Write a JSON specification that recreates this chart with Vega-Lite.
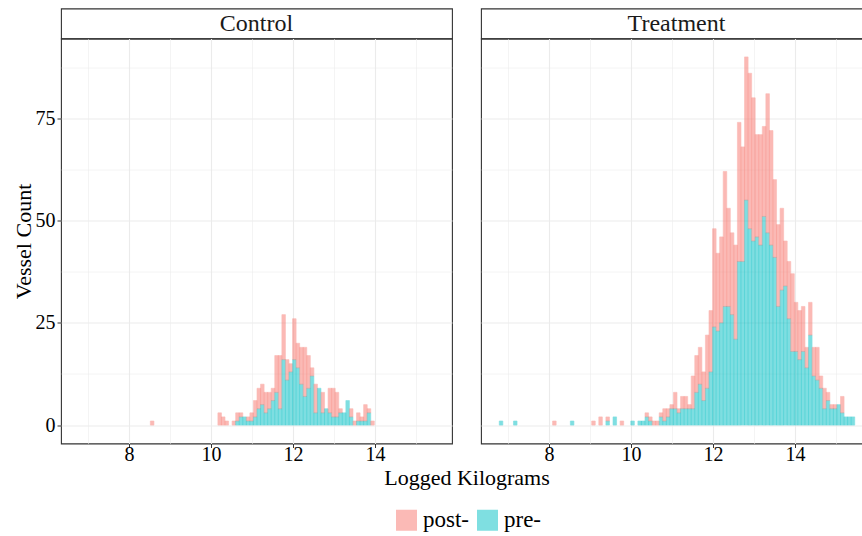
{
"$schema": "https://vega.github.io/schema/vega-lite/v6.json",
"background": "white",
"padding": {"left": 11, "top": 7.5, "right": 0, "bottom": 5},
"config": {"font": "Liberation Serif", "view": {"stroke": null},
  "legend": {"symbolType": "square", "symbolSize": 441, "symbolOpacity": 0.5, "symbolStrokeWidth": 0, "labelFontSize": 23, "labelColor": "black", "labelFont": "Liberation Serif", "columnPadding": 7, "labelOffset": 5, "padding": 0}},
"datasets": {
"strips": [{"p": "Control"}, {"p": "Treatment"}],
"bins": [
{"p":"Control","g":"post-","lo":8.5085,"hi":8.5952,"n":1},
{"p":"Control","g":"post-","lo":10.1558,"hi":10.2425,"n":3},
{"p":"Control","g":"post-","lo":10.2425,"hi":10.3292,"n":2},
{"p":"Control","g":"post-","lo":10.3292,"hi":10.4159,"n":1},
{"p":"Control","g":"post-","lo":10.5026,"hi":10.5893,"n":1},
{"p":"Control","g":"pre-","lo":10.5893,"hi":10.676,"n":1},
{"p":"Control","g":"post-","lo":10.5893,"hi":10.676,"n":2},
{"p":"Control","g":"pre-","lo":10.676,"hi":10.7627,"n":2},
{"p":"Control","g":"post-","lo":10.676,"hi":10.7627,"n":1},
{"p":"Control","g":"pre-","lo":10.7627,"hi":10.8494,"n":2},
{"p":"Control","g":"pre-","lo":10.8494,"hi":10.9361,"n":1},
{"p":"Control","g":"post-","lo":10.8494,"hi":10.9361,"n":1},
{"p":"Control","g":"pre-","lo":10.9361,"hi":11.0228,"n":1},
{"p":"Control","g":"post-","lo":10.9361,"hi":11.0228,"n":2},
{"p":"Control","g":"pre-","lo":11.0228,"hi":11.1095,"n":2},
{"p":"Control","g":"post-","lo":11.0228,"hi":11.1095,"n":4},
{"p":"Control","g":"pre-","lo":11.1095,"hi":11.1962,"n":4},
{"p":"Control","g":"post-","lo":11.1095,"hi":11.1962,"n":5},
{"p":"Control","g":"pre-","lo":11.1962,"hi":11.2829,"n":5},
{"p":"Control","g":"post-","lo":11.1962,"hi":11.2829,"n":5},
{"p":"Control","g":"pre-","lo":11.2829,"hi":11.3696,"n":3},
{"p":"Control","g":"post-","lo":11.2829,"hi":11.3696,"n":5},
{"p":"Control","g":"pre-","lo":11.3696,"hi":11.4563,"n":4},
{"p":"Control","g":"post-","lo":11.3696,"hi":11.4563,"n":4},
{"p":"Control","g":"pre-","lo":11.4563,"hi":11.543,"n":6},
{"p":"Control","g":"post-","lo":11.4563,"hi":11.543,"n":3},
{"p":"Control","g":"pre-","lo":11.543,"hi":11.6297,"n":8},
{"p":"Control","g":"post-","lo":11.543,"hi":11.6297,"n":9},
{"p":"Control","g":"pre-","lo":11.6297,"hi":11.7164,"n":4},
{"p":"Control","g":"post-","lo":11.6297,"hi":11.7164,"n":13},
{"p":"Control","g":"pre-","lo":11.7164,"hi":11.8031,"n":16},
{"p":"Control","g":"post-","lo":11.7164,"hi":11.8031,"n":11},
{"p":"Control","g":"pre-","lo":11.8031,"hi":11.8898,"n":11},
{"p":"Control","g":"post-","lo":11.8031,"hi":11.8898,"n":5},
{"p":"Control","g":"pre-","lo":11.8898,"hi":11.9765,"n":13},
{"p":"Control","g":"post-","lo":11.8898,"hi":11.9765,"n":2},
{"p":"Control","g":"pre-","lo":11.9765,"hi":12.0632,"n":16},
{"p":"Control","g":"post-","lo":11.9765,"hi":12.0632,"n":10},
{"p":"Control","g":"pre-","lo":12.0632,"hi":12.1499,"n":14},
{"p":"Control","g":"post-","lo":12.0632,"hi":12.1499,"n":6},
{"p":"Control","g":"pre-","lo":12.1499,"hi":12.2366,"n":10},
{"p":"Control","g":"post-","lo":12.1499,"hi":12.2366,"n":9},
{"p":"Control","g":"pre-","lo":12.2366,"hi":12.3233,"n":7},
{"p":"Control","g":"post-","lo":12.2366,"hi":12.3233,"n":12},
{"p":"Control","g":"pre-","lo":12.3233,"hi":12.41,"n":9},
{"p":"Control","g":"post-","lo":12.3233,"hi":12.41,"n":8},
{"p":"Control","g":"pre-","lo":12.41,"hi":12.4967,"n":12},
{"p":"Control","g":"post-","lo":12.41,"hi":12.4967,"n":2},
{"p":"Control","g":"pre-","lo":12.4967,"hi":12.5834,"n":3},
{"p":"Control","g":"post-","lo":12.4967,"hi":12.5834,"n":7},
{"p":"Control","g":"pre-","lo":12.5834,"hi":12.6701,"n":9},
{"p":"Control","g":"pre-","lo":12.6701,"hi":12.7568,"n":3},
{"p":"Control","g":"post-","lo":12.6701,"hi":12.7568,"n":5},
{"p":"Control","g":"pre-","lo":12.7568,"hi":12.8435,"n":4},
{"p":"Control","g":"pre-","lo":12.8435,"hi":12.9302,"n":3},
{"p":"Control","g":"post-","lo":12.8435,"hi":12.9302,"n":6},
{"p":"Control","g":"pre-","lo":12.9302,"hi":13.0169,"n":2},
{"p":"Control","g":"post-","lo":12.9302,"hi":13.0169,"n":7},
{"p":"Control","g":"pre-","lo":13.0169,"hi":13.1036,"n":2},
{"p":"Control","g":"post-","lo":13.0169,"hi":13.1036,"n":6},
{"p":"Control","g":"pre-","lo":13.1036,"hi":13.1903,"n":3},
{"p":"Control","g":"post-","lo":13.1036,"hi":13.1903,"n":1},
{"p":"Control","g":"pre-","lo":13.1903,"hi":13.277,"n":3},
{"p":"Control","g":"pre-","lo":13.277,"hi":13.3637,"n":6},
{"p":"Control","g":"pre-","lo":13.3637,"hi":13.4504,"n":2},
{"p":"Control","g":"post-","lo":13.3637,"hi":13.4504,"n":2},
{"p":"Control","g":"post-","lo":13.4504,"hi":13.5371,"n":1},
{"p":"Control","g":"pre-","lo":13.5371,"hi":13.6238,"n":1},
{"p":"Control","g":"post-","lo":13.5371,"hi":13.6238,"n":2},
{"p":"Control","g":"pre-","lo":13.6238,"hi":13.7105,"n":1},
{"p":"Control","g":"post-","lo":13.6238,"hi":13.7105,"n":1},
{"p":"Control","g":"pre-","lo":13.7105,"hi":13.7972,"n":1},
{"p":"Control","g":"post-","lo":13.7105,"hi":13.7972,"n":4},
{"p":"Control","g":"pre-","lo":13.7972,"hi":13.8839,"n":3},
{"p":"Control","g":"post-","lo":13.7972,"hi":13.8839,"n":1},
{"p":"Control","g":"post-","lo":13.8839,"hi":13.9706,"n":1},
{"p":"Treatment","g":"pre-","lo":6.7745,"hi":6.8612,"n":1},
{"p":"Treatment","g":"pre-","lo":7.1213,"hi":7.208,"n":1},
{"p":"Treatment","g":"post-","lo":8.075,"hi":8.1617,"n":1},
{"p":"Treatment","g":"pre-","lo":8.5085,"hi":8.5952,"n":1},
{"p":"Treatment","g":"post-","lo":9.0287,"hi":9.1154,"n":1},
{"p":"Treatment","g":"post-","lo":9.2021,"hi":9.2888,"n":2},
{"p":"Treatment","g":"pre-","lo":9.3755,"hi":9.4622,"n":1},
{"p":"Treatment","g":"post-","lo":9.3755,"hi":9.4622,"n":1},
{"p":"Treatment","g":"pre-","lo":9.5489,"hi":9.6356,"n":2},
{"p":"Treatment","g":"post-","lo":9.7223,"hi":9.809,"n":1},
{"p":"Treatment","g":"pre-","lo":9.9824,"hi":10.0691,"n":1},
{"p":"Treatment","g":"pre-","lo":10.1558,"hi":10.2425,"n":1},
{"p":"Treatment","g":"pre-","lo":10.2425,"hi":10.3292,"n":1},
{"p":"Treatment","g":"pre-","lo":10.3292,"hi":10.4159,"n":2},
{"p":"Treatment","g":"post-","lo":10.3292,"hi":10.4159,"n":1},
{"p":"Treatment","g":"pre-","lo":10.4159,"hi":10.5026,"n":1},
{"p":"Treatment","g":"post-","lo":10.4159,"hi":10.5026,"n":1},
{"p":"Treatment","g":"post-","lo":10.5026,"hi":10.5893,"n":1},
{"p":"Treatment","g":"post-","lo":10.5893,"hi":10.676,"n":1},
{"p":"Treatment","g":"pre-","lo":10.676,"hi":10.7627,"n":2},
{"p":"Treatment","g":"post-","lo":10.676,"hi":10.7627,"n":1},
{"p":"Treatment","g":"pre-","lo":10.7627,"hi":10.8494,"n":1},
{"p":"Treatment","g":"post-","lo":10.7627,"hi":10.8494,"n":3},
{"p":"Treatment","g":"pre-","lo":10.8494,"hi":10.9361,"n":2},
{"p":"Treatment","g":"post-","lo":10.8494,"hi":10.9361,"n":2},
{"p":"Treatment","g":"pre-","lo":10.9361,"hi":11.0228,"n":4},
{"p":"Treatment","g":"post-","lo":10.9361,"hi":11.0228,"n":1},
{"p":"Treatment","g":"pre-","lo":11.0228,"hi":11.1095,"n":4},
{"p":"Treatment","g":"post-","lo":11.0228,"hi":11.1095,"n":4},
{"p":"Treatment","g":"pre-","lo":11.1095,"hi":11.1962,"n":3},
{"p":"Treatment","g":"post-","lo":11.1095,"hi":11.1962,"n":1},
{"p":"Treatment","g":"pre-","lo":11.1962,"hi":11.2829,"n":4},
{"p":"Treatment","g":"post-","lo":11.1962,"hi":11.2829,"n":3},
{"p":"Treatment","g":"pre-","lo":11.2829,"hi":11.3696,"n":4},
{"p":"Treatment","g":"post-","lo":11.2829,"hi":11.3696,"n":3},
{"p":"Treatment","g":"pre-","lo":11.3696,"hi":11.4563,"n":4},
{"p":"Treatment","g":"post-","lo":11.3696,"hi":11.4563,"n":1},
{"p":"Treatment","g":"pre-","lo":11.4563,"hi":11.543,"n":4},
{"p":"Treatment","g":"post-","lo":11.4563,"hi":11.543,"n":8},
{"p":"Treatment","g":"pre-","lo":11.543,"hi":11.6297,"n":8},
{"p":"Treatment","g":"post-","lo":11.543,"hi":11.6297,"n":9},
{"p":"Treatment","g":"pre-","lo":11.6297,"hi":11.7164,"n":10},
{"p":"Treatment","g":"post-","lo":11.6297,"hi":11.7164,"n":9},
{"p":"Treatment","g":"pre-","lo":11.7164,"hi":11.8031,"n":6},
{"p":"Treatment","g":"post-","lo":11.7164,"hi":11.8031,"n":7},
{"p":"Treatment","g":"pre-","lo":11.8031,"hi":11.8898,"n":9},
{"p":"Treatment","g":"post-","lo":11.8031,"hi":11.8898,"n":13},
{"p":"Treatment","g":"pre-","lo":11.8898,"hi":11.9765,"n":13},
{"p":"Treatment","g":"post-","lo":11.8898,"hi":11.9765,"n":15},
{"p":"Treatment","g":"pre-","lo":11.9765,"hi":12.0632,"n":24},
{"p":"Treatment","g":"post-","lo":11.9765,"hi":12.0632,"n":24},
{"p":"Treatment","g":"pre-","lo":12.0632,"hi":12.1499,"n":23},
{"p":"Treatment","g":"post-","lo":12.0632,"hi":12.1499,"n":19},
{"p":"Treatment","g":"pre-","lo":12.1499,"hi":12.2366,"n":25},
{"p":"Treatment","g":"post-","lo":12.1499,"hi":12.2366,"n":21},
{"p":"Treatment","g":"pre-","lo":12.2366,"hi":12.3233,"n":29},
{"p":"Treatment","g":"post-","lo":12.2366,"hi":12.3233,"n":33},
{"p":"Treatment","g":"pre-","lo":12.3233,"hi":12.41,"n":29},
{"p":"Treatment","g":"post-","lo":12.3233,"hi":12.41,"n":24},
{"p":"Treatment","g":"pre-","lo":12.41,"hi":12.4967,"n":27},
{"p":"Treatment","g":"post-","lo":12.41,"hi":12.4967,"n":20},
{"p":"Treatment","g":"pre-","lo":12.4967,"hi":12.5834,"n":21},
{"p":"Treatment","g":"post-","lo":12.4967,"hi":12.5834,"n":23},
{"p":"Treatment","g":"pre-","lo":12.5834,"hi":12.6701,"n":40},
{"p":"Treatment","g":"post-","lo":12.5834,"hi":12.6701,"n":34},
{"p":"Treatment","g":"pre-","lo":12.6701,"hi":12.7568,"n":40},
{"p":"Treatment","g":"post-","lo":12.6701,"hi":12.7568,"n":28},
{"p":"Treatment","g":"pre-","lo":12.7568,"hi":12.8435,"n":55},
{"p":"Treatment","g":"post-","lo":12.7568,"hi":12.8435,"n":35},
{"p":"Treatment","g":"pre-","lo":12.8435,"hi":12.9302,"n":48},
{"p":"Treatment","g":"post-","lo":12.8435,"hi":12.9302,"n":38},
{"p":"Treatment","g":"pre-","lo":12.9302,"hi":13.0169,"n":45},
{"p":"Treatment","g":"post-","lo":12.9302,"hi":13.0169,"n":35},
{"p":"Treatment","g":"pre-","lo":13.0169,"hi":13.1036,"n":46},
{"p":"Treatment","g":"post-","lo":13.0169,"hi":13.1036,"n":25},
{"p":"Treatment","g":"pre-","lo":13.1036,"hi":13.1903,"n":44},
{"p":"Treatment","g":"post-","lo":13.1036,"hi":13.1903,"n":27},
{"p":"Treatment","g":"pre-","lo":13.1903,"hi":13.277,"n":51},
{"p":"Treatment","g":"post-","lo":13.1903,"hi":13.277,"n":22},
{"p":"Treatment","g":"pre-","lo":13.277,"hi":13.3637,"n":47},
{"p":"Treatment","g":"post-","lo":13.277,"hi":13.3637,"n":34},
{"p":"Treatment","g":"pre-","lo":13.3637,"hi":13.4504,"n":44},
{"p":"Treatment","g":"post-","lo":13.3637,"hi":13.4504,"n":28},
{"p":"Treatment","g":"pre-","lo":13.4504,"hi":13.5371,"n":41},
{"p":"Treatment","g":"post-","lo":13.4504,"hi":13.5371,"n":19},
{"p":"Treatment","g":"pre-","lo":13.5371,"hi":13.6238,"n":29},
{"p":"Treatment","g":"post-","lo":13.5371,"hi":13.6238,"n":20},
{"p":"Treatment","g":"pre-","lo":13.6238,"hi":13.7105,"n":33},
{"p":"Treatment","g":"post-","lo":13.6238,"hi":13.7105,"n":20},
{"p":"Treatment","g":"pre-","lo":13.7105,"hi":13.7972,"n":34},
{"p":"Treatment","g":"post-","lo":13.7105,"hi":13.7972,"n":11},
{"p":"Treatment","g":"pre-","lo":13.7972,"hi":13.8839,"n":26},
{"p":"Treatment","g":"post-","lo":13.7972,"hi":13.8839,"n":14},
{"p":"Treatment","g":"pre-","lo":13.8839,"hi":13.9706,"n":18},
{"p":"Treatment","g":"post-","lo":13.8839,"hi":13.9706,"n":19},
{"p":"Treatment","g":"pre-","lo":13.9706,"hi":14.0573,"n":18},
{"p":"Treatment","g":"post-","lo":13.9706,"hi":14.0573,"n":12},
{"p":"Treatment","g":"pre-","lo":14.0573,"hi":14.144,"n":16},
{"p":"Treatment","g":"post-","lo":14.0573,"hi":14.144,"n":12},
{"p":"Treatment","g":"pre-","lo":14.144,"hi":14.2307,"n":18},
{"p":"Treatment","g":"post-","lo":14.144,"hi":14.2307,"n":11},
{"p":"Treatment","g":"pre-","lo":14.2307,"hi":14.3174,"n":14},
{"p":"Treatment","g":"post-","lo":14.2307,"hi":14.3174,"n":5},
{"p":"Treatment","g":"pre-","lo":14.3174,"hi":14.4041,"n":22},
{"p":"Treatment","g":"post-","lo":14.3174,"hi":14.4041,"n":8},
{"p":"Treatment","g":"pre-","lo":14.4041,"hi":14.4908,"n":12},
{"p":"Treatment","g":"post-","lo":14.4041,"hi":14.4908,"n":7},
{"p":"Treatment","g":"pre-","lo":14.4908,"hi":14.5775,"n":11},
{"p":"Treatment","g":"post-","lo":14.4908,"hi":14.5775,"n":8},
{"p":"Treatment","g":"pre-","lo":14.5775,"hi":14.6642,"n":9},
{"p":"Treatment","g":"post-","lo":14.5775,"hi":14.6642,"n":3},
{"p":"Treatment","g":"pre-","lo":14.6642,"hi":14.7509,"n":4},
{"p":"Treatment","g":"post-","lo":14.6642,"hi":14.7509,"n":5},
{"p":"Treatment","g":"pre-","lo":14.7509,"hi":14.8376,"n":6},
{"p":"Treatment","g":"post-","lo":14.7509,"hi":14.8376,"n":2},
{"p":"Treatment","g":"pre-","lo":14.8376,"hi":14.9243,"n":4},
{"p":"Treatment","g":"post-","lo":14.8376,"hi":14.9243,"n":1},
{"p":"Treatment","g":"pre-","lo":14.9243,"hi":15.011,"n":4},
{"p":"Treatment","g":"post-","lo":14.9243,"hi":15.011,"n":1},
{"p":"Treatment","g":"pre-","lo":15.011,"hi":15.0977,"n":5},
{"p":"Treatment","g":"pre-","lo":15.0977,"hi":15.1844,"n":3},
{"p":"Treatment","g":"post-","lo":15.0977,"hi":15.1844,"n":4},
{"p":"Treatment","g":"pre-","lo":15.1844,"hi":15.2711,"n":2},
{"p":"Treatment","g":"pre-","lo":15.2711,"hi":15.3578,"n":2},
{"p":"Treatment","g":"pre-","lo":15.3578,"hi":15.4445,"n":2}
]},
"columns": 2,
"spacing": {"row": 0, "column": 29},
"bounds": "flush",
"concat": [
{"data": {"name": "strips"}, "transform": [{"filter": "datum.p == 'Control'"}], "width": 391, "height": 30,
 "view": {"stroke": "#333333", "strokeWidth": 1.1, "fill": "white"},
 "mark": {"type": "text", "fontSize": 24, "color": "#1a1a1a", "font": "Liberation Serif"},
 "encoding": {"text": {"field": "p", "type": "nominal"}}},
{"data": {"name": "strips"}, "transform": [{"filter": "datum.p == 'Treatment'"}], "width": 391, "height": 30,
 "view": {"stroke": "#333333", "strokeWidth": 1.1, "fill": "white"},
 "mark": {"type": "text", "fontSize": 24, "color": "#1a1a1a", "font": "Liberation Serif"},
 "encoding": {"text": {"field": "p", "type": "nominal"}}},
{"data": {"name": "bins"}, "transform": [{"filter": "datum.p == 'Control'"}], "width": 391, "height": 405,
 "view": {"stroke": "#333333", "strokeWidth": 1.1},
 "mark": {"type": "bar", "orient": "vertical", "opacity": 0.5, "binSpacing": 0, "strokeWidth": 0.6},
 "encoding": {
  "x": {"field": "lo", "type": "quantitative", "bin": "binned", "scale": {"domain": [6.341, 15.878], "nice": false, "zero": false},
   "axis": {"values": [7,8,9,10,11,12,13,14,15], "labelExpr": "datum.value % 2 == 0 ? datum.label : ''", "title": "Logged Kilograms", "titleX": 405.5, "titleFontSize": 22, "titleFontWeight": "normal", "titleColor": "black", "titleFont": "Liberation Serif", "titlePadding": 3, "labelFontSize": 20, "labelColor": "black", "labelFont": "Liberation Serif", "labelPadding": -3, "labelFlush": false, "labelOverlap": false, "tickSize": 4, "tickColor": {"condition": {"test": "datum.value % 2 == 0", "value": "#333333"}, "value": "rgba(0,0,0,0)"}, "domain": false, "grid": true, "gridColor": "#EBEBEB", "gridWidth": {"condition": {"test": "datum.value % 2 == 0", "value": 1.1}, "value": 0.55}}},
  "x2": {"field": "hi"},
  "y": {"field": "n", "type": "quantitative", "stack": "zero", "scale": {"domain": [-4.5, 94.5], "nice": false, "zero": false},
   "axis": {"values": [0,12.5,25,37.5,50,62.5,75,87.5], "labelExpr": "datum.value % 25 == 0 ? datum.label : ''", "title": "Vessel Count", "titleFontSize": 22, "titleFontWeight": "normal", "titleColor": "black", "titleFont": "Liberation Serif", "titlePadding": 0, "labelFontSize": 20, "labelColor": "black", "labelFont": "Liberation Serif", "labelPadding": 2, "labelOverlap": false, "tickSize": 4, "tickColor": {"condition": {"test": "datum.value % 25 == 0", "value": "#333333"}, "value": "rgba(0,0,0,0)"}, "domain": false, "grid": true, "gridColor": "#EBEBEB", "gridWidth": {"condition": {"test": "datum.value % 25 == 0", "value": 1.1}, "value": 0.55}}},
  "color": {"field": "g", "type": "nominal", "scale": {"domain": ["post-", "pre-"], "range": ["#F8766D", "#00BFC4"]}, "legend": {"title": null, "orient": "none", "direction": "horizontal", "legendX": 334, "legendY": 500}},
  "stroke": {"field": "g", "type": "nominal", "scale": {"domain": ["post-", "pre-"], "range": ["#F8766D", "#00BFC4"]}, "legend": {"title": null, "orient": "none", "direction": "horizontal", "legendX": 334, "legendY": 500}},
  "order": {"field": "g", "sort": "descending"}
 }},
{"data": {"name": "bins"}, "transform": [{"filter": "datum.p == 'Treatment'"}], "width": 391, "height": 405,
 "view": {"stroke": "#333333", "strokeWidth": 1.1},
 "mark": {"type": "bar", "orient": "vertical", "opacity": 0.5, "binSpacing": 0, "strokeWidth": 0.6},
 "encoding": {
  "x": {"field": "lo", "type": "quantitative", "bin": "binned", "scale": {"domain": [6.341, 15.878], "nice": false, "zero": false},
   "axis": {"values": [7,8,9,10,11,12,13,14,15], "labelExpr": "datum.value % 2 == 0 ? datum.label : ''", "title": null, "labelFontSize": 20, "labelColor": "black", "labelFont": "Liberation Serif", "labelPadding": -3, "labelFlush": false, "labelOverlap": false, "tickSize": 4, "tickColor": {"condition": {"test": "datum.value % 2 == 0", "value": "#333333"}, "value": "rgba(0,0,0,0)"}, "domain": false, "grid": true, "gridColor": "#EBEBEB", "gridWidth": {"condition": {"test": "datum.value % 2 == 0", "value": 1.1}, "value": 0.55}}},
  "x2": {"field": "hi"},
  "y": {"field": "n", "type": "quantitative", "stack": "zero", "scale": {"domain": [-4.5, 94.5], "nice": false, "zero": false},
   "axis": {"values": [0,12.5,25,37.5,50,62.5,75,87.5], "labels": false, "ticks": false, "title": null, "domain": false, "grid": true, "gridColor": "#EBEBEB", "gridWidth": {"condition": {"test": "datum.value % 25 == 0", "value": 1.1}, "value": 0.55}}},
  "color": {"field": "g", "type": "nominal", "scale": {"domain": ["post-", "pre-"], "range": ["#F8766D", "#00BFC4"]}, "legend": {"title": null, "orient": "none", "direction": "horizontal", "legendX": 334, "legendY": 500}},
  "stroke": {"field": "g", "type": "nominal", "scale": {"domain": ["post-", "pre-"], "range": ["#F8766D", "#00BFC4"]}, "legend": {"title": null, "orient": "none", "direction": "horizontal", "legendX": 334, "legendY": 500}},
  "order": {"field": "g", "sort": "descending"}
 }}
]
}
